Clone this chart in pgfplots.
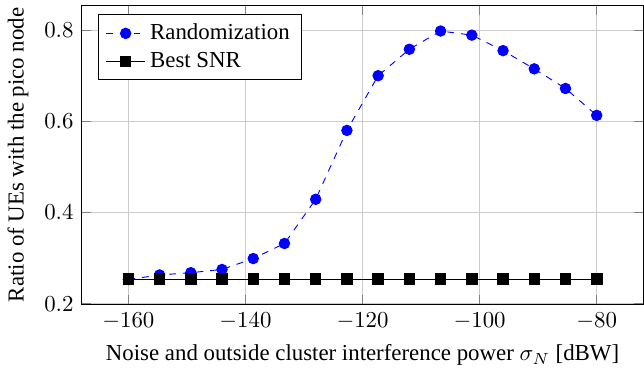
\documentclass[border=0pt]{standalone}
\usepackage{fontspec}
\setmainfont{Liberation Serif}
\usepackage{pgfplots}
\pgfplotsset{compat=1.18}
\begin{document}
\begin{tikzpicture}
\begin{axis}[
  scale only axis,
  width=246pt, height=131pt,
  xmin=-168, xmax=-72,
  ymin=0.1983, ymax=0.8547,
  xtick={-160,-140,-120,-100,-80},
  ytick={0.2,0.4,0.6,0.8},
  grid=major,
  grid style={gray!40},
  xlabel={Noise and outside cluster interference power $\sigma_N$ [dBW]},
  ylabel={Ratio of UEs with the pico node},
  legend pos=north west,
  legend cell align=left,
]
\addplot[blue, dashed, mark=*, mark size=2.3pt, mark options={solid}] coordinates {
(-160,0.253) (-154.667,0.263) (-149.333,0.268) (-144,0.275) (-138.667,0.299)
(-133.333,0.332) (-128,0.429) (-122.667,0.580) (-117.333,0.700) (-112,0.758)
(-106.667,0.798) (-101.333,0.789) (-96,0.755) (-90.667,0.715) (-85.333,0.672) (-80,0.613)
};
\addlegendentry{Randomization}
\addplot[black, mark=square*, mark size=2.3pt] coordinates {
(-160,0.254) (-154.667,0.254) (-149.333,0.254) (-144,0.254) (-138.667,0.254)
(-133.333,0.254) (-128,0.254) (-122.667,0.254) (-117.333,0.254) (-112,0.254)
(-106.667,0.254) (-101.333,0.254) (-96,0.254) (-90.667,0.254) (-85.333,0.254) (-80,0.254)
};
\addlegendentry{Best SNR}
\end{axis}
\end{tikzpicture}
\end{document}
